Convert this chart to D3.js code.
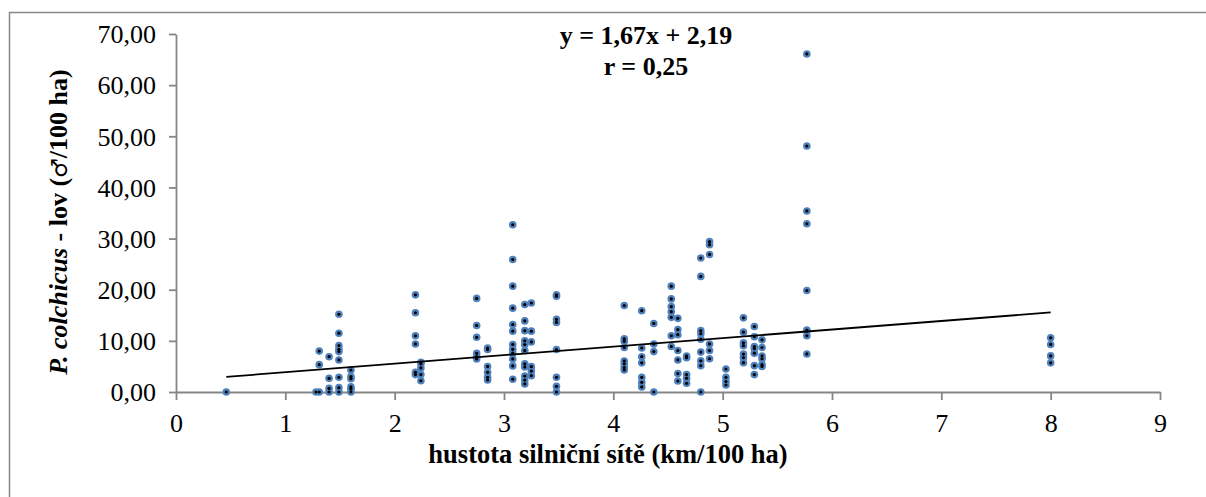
<!DOCTYPE html>
<html>
<head>
<meta charset="utf-8">
<script src="https://cdn.jsdelivr.net/npm/d3@7"></script>
<style>
  html, body { margin: 0; padding: 0; background: #fff; }
  svg { display: block; }
  text { font-family: "Liberation Serif", "Times New Roman", serif; fill: #000; }
</style>
</head>
<body>
<svg id="chart" width="1206" height="497"></svg>
<script>
// ---- data ----
const columnX = [0.46, 1.28, 1.31, 1.40, 1.49, 1.60, 2.19, 2.24, 2.75, 2.85, 3.08, 3.19, 3.25, 3.48,
                 4.10, 4.26, 4.37, 4.53, 4.59, 4.67, 4.80, 4.88, 5.03, 5.19, 5.29, 5.36, 5.77, 8.00];
const columnY = [
  [0],
  [0],
  [8.0, 5.35, 0],
  [6.9, 2.67, 0.7, 0],
  [15.2, 11.5, 9.07, 8.35, 7.9, 6.27, 2.87, 0.85, 0],
  [4.3, 3.0, 2.6, 1.0, 0.6, 0],
  [19.0, 15.5, 11.0, 9.4, 3.85, 3.4],
  [5.8, 5.5, 4.7, 3.4, 2.2],
  [18.3, 13.0, 10.7, 7.56, 6.9, 6.46],
  [8.6, 8.3, 5.0, 3.85, 2.86, 2.35],
  [32.7, 25.9, 20.7, 16.4, 13.2, 11.9, 9.3, 8.35, 7.6, 6.46, 5.1, 2.5],
  [17.1, 13.9, 12.0, 10.0, 9.27, 8.1, 5.5, 4.9, 3.13, 2.35, 1.57],
  [17.4, 11.9, 9.8, 4.96, 4.1, 3.2],
  [19.0, 18.7, 14.2, 13.6, 8.3, 2.87, 1.1, 0],
  [16.9, 10.4, 9.9, 8.7, 6.07, 5.5, 4.76, 4.3],
  [15.9, 8.6, 6.9, 5.7, 2.87, 1.9, 1.0],
  [13.4, 9.4, 7.9, 0],
  [20.7, 18.2, 16.7, 15.7, 14.6, 11.0, 8.9],
  [14.4, 12.2, 11.2, 8.1, 6.27, 3.6, 2.15],
  [7.05, 6.7, 3.4, 2.7, 1.7],
  [26.2, 22.6, 12.0, 11.4, 10.3, 7.8, 6.1, 5.15, 0],
  [29.4, 28.8, 26.9, 9.4, 8.1, 6.5],
  [4.5, 2.87, 2.05, 1.37],
  [14.5, 11.7, 9.63, 9.05, 7.42, 6.73, 5.74],
  [12.8, 10.8, 8.9, 8.5, 7.6, 5.15, 3.4],
  [10.2, 8.7, 7.05, 6.5, 5.35, 5.0],
  [66.1, 48.1, 35.4, 32.9, 19.85, 12.1, 11.9, 11.0, 7.44],
  [10.6, 9.3, 7.06, 5.7]
];
const xTicks = [0, 1, 2, 3, 4, 5, 6, 7, 8, 9];
const yTicks = [0, 10, 20, 30, 40, 50, 60, 70];
const yTickLabels = ["0,00", "10,00", "20,00", "30,00", "40,00", "50,00", "60,00", "70,00"];
const trendSlope = 1.67;
const trendIntercept = 2.19;
const equationLines = ["y = 1,67x + 2,19", "r = 0,25"];
const xTitle = "hustota silniční sítě (km/100 ha)";

// ---- layout ----
const svg = d3.select("#chart");
const axisColor = "#868686";
const plotLeft = 176, plotRight = 1160, plotTop = 34, plotBottom = 392;

const x = d3.scaleLinear().domain([0, 9]).range([plotLeft, plotRight]);
const y = d3.scaleLinear().domain([0, 70]).range([plotBottom, plotTop]);

// outer chart border (extends past the right/bottom edge in the reference)
svg.append("rect")
  .attr("x", 9.5).attr("y", 12.5).attr("width", 1260).attr("height", 520)
  .attr("fill", "none").attr("stroke", axisColor).attr("stroke-width", 1.5);

// axes
const xAxis = svg.append("g")
  .attr("transform", `translate(0,${plotBottom})`)
  .call(d3.axisBottom(x).tickValues(xTicks).tickSize(8).tickSizeOuter(0).tickFormat(d3.format("d")));
const yAxis = svg.append("g")
  .attr("transform", `translate(${plotLeft},0)`)
  .call(d3.axisLeft(y).tickValues(yTicks).tickSize(7).tickSizeOuter(0)
    .tickFormat(d => yTickLabels[yTicks.indexOf(d)]));

[xAxis, yAxis].forEach(g => {
  g.selectAll("path.domain").attr("stroke", axisColor).attr("stroke-width", 1.8);
  g.selectAll(".tick line").attr("stroke", axisColor).attr("stroke-width", 1.8);
  g.selectAll(".tick text")
    .style("font-family", '"Liberation Serif", "Times New Roman", serif')
    .style("font-size", "26px").attr("fill", "#000");
});
xAxis.selectAll(".tick text").attr("y", 40).attr("dy", 0);
yAxis.selectAll(".tick text").attr("x", -20).attr("dy", "0.34em");

// points
const points = [];
columnX.forEach((cx, i) => columnY[i].forEach(v => points.push([cx, v])));

const dots = svg.append("g");
dots.selectAll("circle.outer").data(points).join("circle")
  .attr("class", "outer")
  .attr("cx", d => x(d[0])).attr("cy", d => y(d[1])).attr("r", 3.8)
  .attr("fill", "#4F81BD");
dots.selectAll("circle.inner").data(points).join("circle")
  .attr("class", "inner")
  .attr("cx", d => x(d[0])).attr("cy", d => y(d[1])).attr("r", 1.6)
  .attr("fill", "#000");

// trend line
const xMin = d3.min(columnX), xMax = d3.max(columnX);
svg.append("line")
  .attr("x1", x(xMin)).attr("y1", y(trendSlope * xMin + trendIntercept))
  .attr("x2", x(xMax)).attr("y2", y(trendSlope * xMax + trendIntercept))
  .attr("stroke", "#000").attr("stroke-width", 1.8);

// equation
svg.append("text").attr("x", 646).attr("y", 44).attr("text-anchor", "middle")
  .style("font-size", "26px").style("font-weight", "bold").text(equationLines[0]);
svg.append("text").attr("x", 646).attr("y", 75).attr("text-anchor", "middle")
  .style("font-size", "26px").style("font-weight", "bold").text(equationLines[1]);

// x title
svg.append("text").attr("x", 608).attr("y", 463).attr("text-anchor", "middle")
  .style("font-size", "26.5px").style("font-weight", "bold").text(xTitle);

// y title
const yt = svg.append("text")
  .attr("transform", "translate(67,222) rotate(-90)")
  .attr("text-anchor", "middle")
  .style("font-size", "26px").style("font-weight", "bold");
yt.append("tspan").style("font-style", "italic").text("P. colchicus");
yt.append("tspan").text(" - lov (");
yt.append("tspan").style("font-weight", "normal").style("font-family", '"DejaVu Sans", sans-serif')
  .style("font-size", "22px").text("♂");
yt.append("tspan").text("/100 ha)");
</script>
</body>
</html>
